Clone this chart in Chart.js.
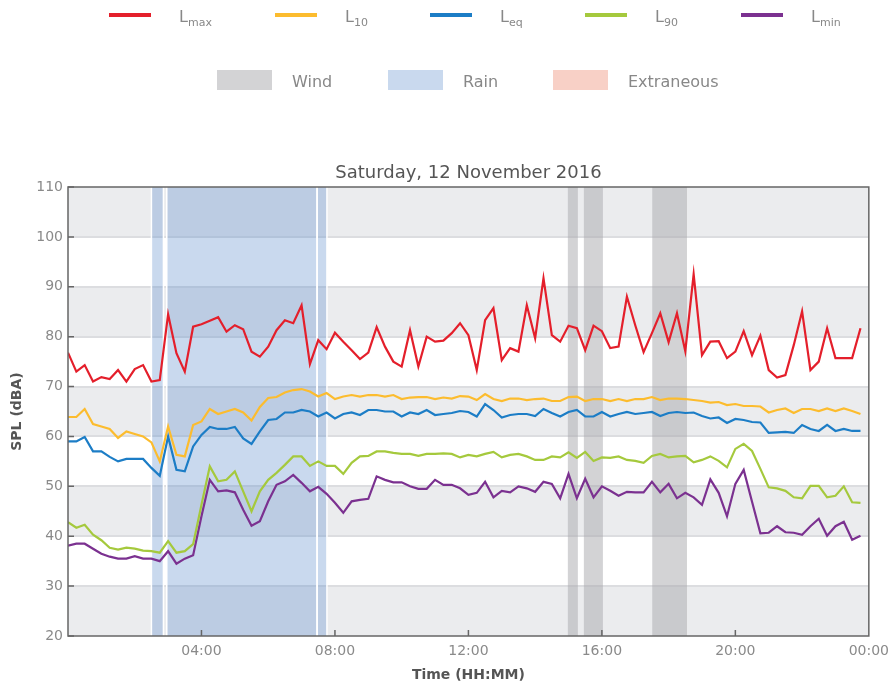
<!DOCTYPE html>
<html>
<head>
<meta charset="utf-8">
<title>SPL - Saturday, 12 November 2016</title>
<script src="https://cdn.jsdelivr.net/npm/chart.js@4.4.1/dist/chart.umd.min.js"></script>
<style>
  body { margin: 0; background: #fff; font-family: "DejaVu Sans", sans-serif; }
  #wrap { position: relative; width: 896px; height: 686px; overflow: hidden; }
  #spl-chart { position: absolute; left: 0; top: 0; }
  .key { position: absolute; color: #888; font-size: 16px; line-height: 16px; white-space: nowrap; }
  .key sub { font-size: 11px; vertical-align: -4px; line-height: 0; }
  .swatch { position: absolute; }
</style>
</head>
<body>
<div id="wrap">
  <canvas id="spl-chart" width="896" height="686"></canvas>
</div>
<script>
// 15-minute samples, 00:00 - 23:45
const lmax = [
  76.8, 73.0, 74.3, 71.0, 71.9, 71.5, 73.3, 71.0, 73.5, 74.3,
  71.0, 71.3, 84.5, 76.7, 73.0, 82.0, 82.5, 83.2, 83.9, 81.0,
  82.3, 81.5, 77.0, 76.0, 78.0, 81.3, 83.3, 82.7, 86.3, 74.5,
  79.3, 77.5, 80.8, 79.0, 77.3, 75.5, 76.8, 81.9, 78.0, 75.0,
  74.0, 81.3, 74.0, 80.0, 79.0, 79.2, 80.7, 82.7, 80.3, 73.3,
  83.3, 85.7, 75.3, 77.7, 77.0, 86.3, 79.7, 91.7, 80.3, 79.0,
  82.2, 81.7, 77.3, 82.2, 81.1, 77.7, 78.0, 88.0, 82.3, 76.9,
  80.7, 84.7, 78.9, 84.7, 77.1, 92.5, 76.3, 79.0, 79.1, 75.7,
  77.0, 81.1, 76.3, 80.2, 73.3, 71.8, 72.3, 78.3, 85.1, 73.3,
  75.0, 81.7, 75.7, 75.7, 75.7, 81.7
];
const l10 = [
  63.9, 63.9, 65.5, 62.5, 62.0, 61.5, 59.7, 61.0, 60.5, 60.0,
  58.8, 55.0, 62.0, 56.3, 56.0, 62.3, 63.0, 65.5, 64.5, 65.0,
  65.5, 64.8, 63.2, 65.9, 67.7, 67.9, 68.8, 69.3, 69.5, 69.0,
  68.0, 68.7, 67.5, 68.0, 68.3, 68.0, 68.3, 68.3, 68.0, 68.3,
  67.5, 67.8, 67.9, 67.9, 67.5, 67.8, 67.6, 68.1, 68.0, 67.3,
  68.5, 67.5, 67.1, 67.6, 67.6, 67.3, 67.5, 67.6, 67.1, 67.1,
  67.9, 68.0, 67.1, 67.5, 67.5, 67.1, 67.5, 67.1, 67.5, 67.5,
  67.9, 67.3, 67.6, 67.6, 67.5, 67.3, 67.1, 66.8, 66.9, 66.3,
  66.5, 66.1, 66.1, 66.0, 64.8, 65.3, 65.6, 64.7, 65.5, 65.5,
  65.1, 65.6, 65.1, 65.6, 65.1, 64.5
];
const leq = [
  59.0, 59.0, 59.9, 57.0, 57.0, 55.9, 55.0, 55.5, 55.5, 55.5,
  53.7, 52.1, 60.0, 53.3, 53.0, 58.0, 60.3, 61.9, 61.5, 61.5,
  61.9, 59.6, 58.5, 61.0, 63.3, 63.5, 64.8, 64.8, 65.3, 65.0,
  64.0, 64.8, 63.6, 64.5, 64.8, 64.3, 65.3, 65.3, 65.0, 65.0,
  64.0, 64.8, 64.5, 65.3, 64.3, 64.5, 64.7, 65.1, 64.9, 64.0,
  66.5, 65.3, 63.8, 64.3, 64.5, 64.5, 64.1, 65.5, 64.7, 64.0,
  64.9, 65.3, 64.0, 64.0, 64.9, 64.0, 64.5, 64.9, 64.5, 64.7,
  64.9, 64.1, 64.7, 64.9, 64.7, 64.8, 64.1, 63.6, 63.8, 62.7,
  63.5, 63.3, 62.9, 62.8, 60.7, 60.8, 60.9, 60.7, 62.3, 61.5,
  61.1, 62.3, 61.1, 61.5, 61.1, 61.1
];
const l90 = [
  42.8, 41.7, 42.3, 40.3, 39.2, 37.7, 37.3, 37.7, 37.5, 37.1,
  37.0, 36.7, 39.0, 36.7, 37.0, 38.4, 46.3, 54.0, 51.0, 51.3,
  53.0, 49.0, 45.0, 49.0, 51.3, 52.7, 54.3, 56.0, 56.0, 54.1,
  55.0, 54.1, 54.1, 52.5, 54.7, 56.0, 56.1, 57.0, 57.0, 56.7,
  56.5, 56.5, 56.1, 56.5, 56.5, 56.6, 56.5, 55.8, 56.3, 56.0,
  56.5, 56.9, 55.8, 56.3, 56.5, 56.0, 55.3, 55.3, 56.0, 55.8,
  56.8, 55.7, 56.9, 55.1, 55.8, 55.7, 56.0, 55.3, 55.1, 54.7,
  56.1, 56.5, 55.8, 56.0, 56.1, 54.8, 55.3, 56.0, 55.1, 53.8,
  57.5, 58.5, 57.1, 53.5, 49.8, 49.6, 49.1, 47.8, 47.6, 50.1,
  50.1, 47.8, 48.1, 50.0, 46.8, 46.7
];
const lmin = [
  38.1, 38.5, 38.5, 37.5, 36.5, 35.9, 35.5, 35.5, 36.0, 35.5,
  35.5, 35.0, 37.0, 34.5, 35.5, 36.2, 44.0, 51.3, 49.0, 49.2,
  48.8, 45.3, 42.1, 43.0, 47.0, 50.3, 51.0, 52.3, 50.7, 49.0,
  49.9, 48.5, 46.7, 44.7, 47.0, 47.3, 47.5, 52.0, 51.3, 50.8,
  50.8, 50.0, 49.5, 49.5, 51.3, 50.3, 50.3, 49.6, 48.3, 48.7,
  50.9, 47.8, 49.1, 48.8, 50.0, 49.6, 48.9, 50.9, 50.5, 47.6,
  52.5, 47.6, 51.5, 47.8, 50.0, 49.1, 48.1, 48.9, 48.8, 48.8,
  50.9, 48.8, 50.5, 47.6, 48.7, 47.8, 46.3, 51.4, 48.7, 44.0,
  50.5, 53.3, 46.9, 40.6, 40.7, 42.0, 40.8, 40.7, 40.3, 42.0,
  43.5, 40.1, 42.0, 42.9, 39.3, 40.1
];

// hours of the day, one per sample
const hours = lmax.map((_, i) => i * 0.25);
const hourTicks = [0, 4, 8, 12, 16, 20, 24];
const yTicks = [20, 30, 40, 50, 60, 70, 80, 90, 100, 110];

// flagged periods [start hour, end hour]
const windSpans = [[14.98, 15.28], [15.46, 16.03], [17.51, 18.55]];
const rainSpans = [[2.50, 2.86], [2.96, 7.46], [7.47, 7.76]];
const extraneousSpans = [];

const seriesSubs = ["max", "10", "eq", "90", "min"];
const seriesValues = [lmax, l10, leq, l90, lmin];
const seriesColors = ["#e41f2b", "#fcbc2e", "#1c7dc6", "#a5c93d", "#7b3190"];

const spanKinds = [
  { name: "Wind", spans: windSpans, fill: "rgba(167,168,172,0.5)", key: "#d3d3d5", edge: null },
  { name: "Rain", spans: rainSpans, fill: "rgba(100,146,206,0.35)", key: "#c9d9ee", edge: "#ffffff" },
  { name: "Extraneous", spans: extraneousSpans, fill: "rgba(240,140,115,0.4)", key: "#f8d0c6", edge: null }
];

// Legends (HTML, above the chart)
const wrap = document.getElementById("wrap");
const seriesKeyX = [109, 275, 430, 585, 741];
const spanKeyX = [217, 388, 553];

seriesSubs.forEach((sub, i) => {
  const left = seriesKeyX[i];
  const line = document.createElement("div");
  line.className = "swatch";
  line.style.cssText = `left:${left}px;top:13px;width:42px;height:4px;background:${seriesColors[i]};`;
  wrap.appendChild(line);
  const label = document.createElement("div");
  label.className = "key";
  label.style.cssText = `left:${left + 70}px;top:9px;`;
  label.innerHTML = `L<sub>${sub}</sub>`;
  wrap.appendChild(label);
});
spanKinds.forEach((kind, i) => {
  const left = spanKeyX[i];
  const box = document.createElement("div");
  box.className = "swatch";
  box.style.cssText = `left:${left}px;top:70px;width:55px;height:20px;background:${kind.key};`;
  wrap.appendChild(box);
  const label = document.createElement("div");
  label.className = "key";
  label.style.cssText = `left:${left + 75}px;top:74px;`;
  label.textContent = kind.name;
  wrap.appendChild(label);
});

// Background bands, flagged spans, frame and title
const backdrop = {
  id: "backdrop",
  beforeDraw(chart) {
    const { ctx, chartArea: a, scales: { y } } = chart;
    ctx.save();
    ctx.fillStyle = "#fff";
    ctx.fillRect(0, 0, chart.width, chart.height);
    for (let k = 0; k < yTicks.length - 1; k++) {
      const top = y.getPixelForValue(yTicks[k + 1]);
      const bottom = y.getPixelForValue(yTicks[k]);
      ctx.fillStyle = k % 2 === 0 ? "#ebecee" : "#ffffff";
      ctx.fillRect(a.left, top, a.right - a.left, bottom - top);
    }
    ctx.restore();
  },
  beforeDatasetsDraw(chart) {
    const { ctx, chartArea: a, scales: { x } } = chart;
    ctx.save();
    spanKinds.forEach(kind => {
      kind.spans.forEach(([s, e]) => {
        const x0 = x.getPixelForValue(s), x1 = x.getPixelForValue(e);
        ctx.fillStyle = kind.fill;
        ctx.fillRect(x0, a.top, x1 - x0, a.bottom - a.top);
        if (kind.edge) {
          ctx.strokeStyle = kind.edge;
          ctx.lineWidth = 1.5;
          ctx.beginPath();
          ctx.moveTo(x0, a.top); ctx.lineTo(x0, a.bottom);
          ctx.moveTo(x1, a.top); ctx.lineTo(x1, a.bottom);
          ctx.stroke();
        }
      });
    });
    ctx.restore();
  },
  afterDraw(chart) {
    const { ctx, chartArea: a, scales: { x, y } } = chart;
    ctx.save();
    ctx.strokeStyle = "#666";
    ctx.lineWidth = 1.5;
    ctx.strokeRect(a.left, a.top, a.right - a.left, a.bottom - a.top);
    ctx.beginPath();
    yTicks.forEach(v => {
      const py = y.getPixelForValue(v);
      ctx.moveTo(a.left, py); ctx.lineTo(a.left + 6, py);
    });
    hourTicks.slice(1, -1).forEach(h => {
      const px = x.getPixelForValue(h);
      ctx.moveTo(px, a.bottom); ctx.lineTo(px, a.bottom - 6);
    });
    ctx.stroke();
    ctx.fillStyle = "#555";
    ctx.font = '18px "DejaVu Sans"';
    ctx.textAlign = "center";
    ctx.textBaseline = "alphabetic";
    ctx.fillText("Saturday, 12 November 2016", (a.left + a.right) / 2, 178);
    ctx.restore();
  }
};

// Chart.js - SPL line chart
const ctx = document.getElementById("spl-chart").getContext("2d");
const splChart = new Chart(ctx, {
  type: "line",
  data: {
    datasets: seriesValues.map((values, i) => ({
      label: "L" + seriesSubs[i],
      data: values.map((v, j) => ({ x: hours[j], y: v })),
      borderColor: seriesColors[i],
      borderWidth: 2.2,
      pointRadius: 0,
      tension: 0,
      fill: false
    }))
  },
  options: {
    responsive: false,
    animation: false,
    devicePixelRatio: 1,
    layout: { padding: { top: 187, right: 27, bottom: 0, left: 0 } },
    plugins: { legend: { display: false }, tooltip: { enabled: false } },
    scales: {
      x: {
        type: "linear",
        min: 0,
        max: 24,
        afterFit: s => { s.height = 50; },
        afterBuildTicks: s => { s.ticks = hourTicks.map(v => ({ value: v })); },
        ticks: {
          autoSkip: false,
          maxRotation: 0,
          padding: 7,
          color: "#8a8a8a",
          font: { family: "DejaVu Sans", size: 14 },
          callback: v => v === 0 ? "" : String(v % 24).padStart(2, "0") + ":00"
        },
        grid: { display: false, drawTicks: false },
        border: { display: false },
        title: {
          display: true,
          text: "Time (HH:MM)",
          color: "#555",
          font: { family: "DejaVu Sans", size: 14, weight: "bold" },
          padding: { top: 0, bottom: 2 }
        }
      },
      y: {
        min: 20,
        max: 110,
        afterFit: s => { s.width = 68; },
        afterBuildTicks: s => { s.ticks = yTicks.map(v => ({ value: v })); },
        ticks: {
          padding: 5,
          color: "#8a8a8a",
          font: { family: "DejaVu Sans", size: 14 }
        },
        grid: {
          drawTicks: false,
          lineWidth: 2,
          color: c => (c.tick && c.tick.value > 20 && c.tick.value < 110) ? "#dcdde0" : "rgba(0,0,0,0)"
        },
        border: { display: false },
        title: {
          display: true,
          text: "SPL (dBA)",
          color: "#555",
          font: { family: "DejaVu Sans", size: 14, weight: "bold" },
          padding: { top: 9, bottom: 0 }
        }
      }
    }
  },
  plugins: [backdrop]
});
</script>
</body>
</html>
